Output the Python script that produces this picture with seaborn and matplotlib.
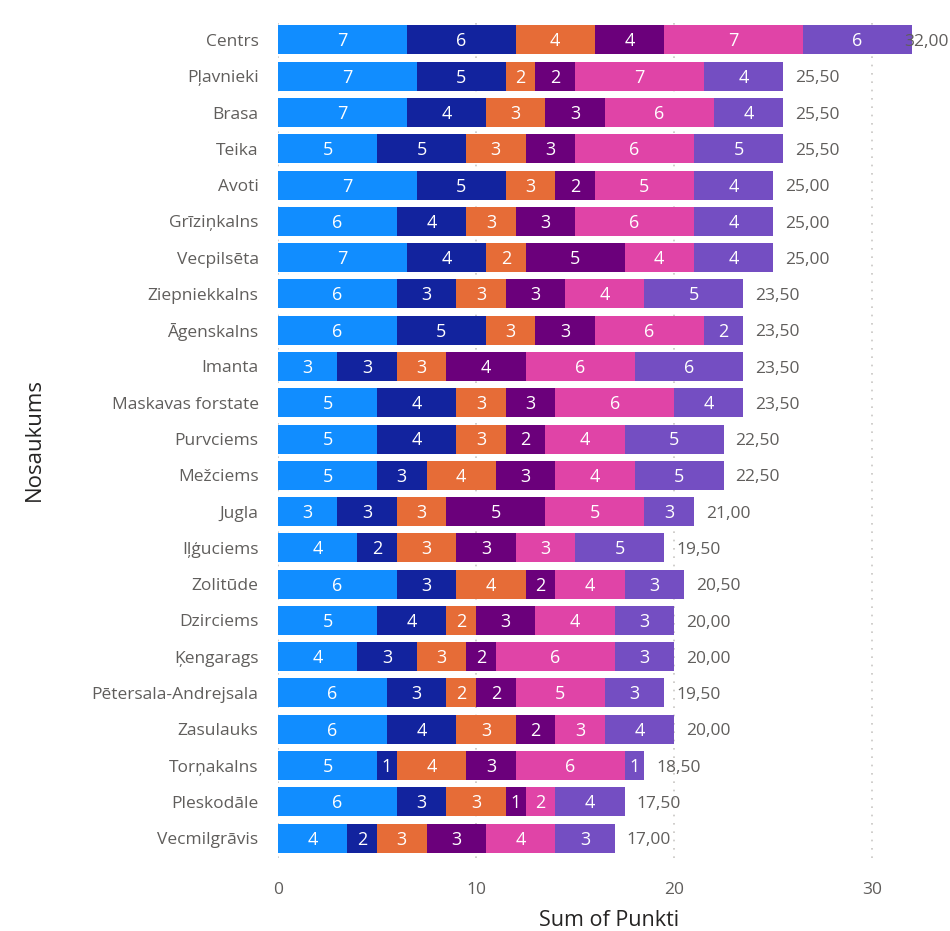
import numpy as np
import pandas as pd
import matplotlib
matplotlib.use('Agg')
import matplotlib.pyplot as plt
import seaborn as sns

# Data (values in half points)
districts = ['Centrs', 'Pļavnieki', 'Brasa', 'Teika', 'Avoti', 'Grīziņkalns',
             'Vecpilsēta', 'Ziepniekkalns', 'Āgenskalns', 'Imanta',
             'Maskavas forstate', 'Purvciems', 'Mežciems', 'Jugla', 'Iļģuciems',
             'Zolitūde', 'Dzirciems', 'Ķengarags', 'Pētersala-Andrejsala',
             'Zasulauks', 'Torņakalns', 'Pleskodāle', 'Vecmilgrāvis']

s1 = [6.5, 7, 6.5, 5, 7, 6, 6.5, 6, 6, 3, 5, 5, 5, 3, 4, 6, 5, 4, 5.5, 5.5, 5, 6, 3.5]
s2 = [5.5, 4.5, 4, 4.5, 4.5, 3.5, 4, 3, 4.5, 3, 4, 4, 2.5, 3, 2, 3, 3.5, 3, 3, 3.5, 1, 2.5, 1.5]
s3 = [4, 1.5, 3, 3, 2.5, 2.5, 2, 2.5, 2.5, 2.5, 2.5, 2.5, 3.5, 2.5, 3, 3.5, 1.5, 2.5, 1.5, 3, 3.5, 3, 2.5]
s4 = [3.5, 2, 3, 2.5, 2, 3, 5, 3, 3, 4, 2.5, 2, 3, 5, 3, 1.5, 3, 1.5, 2, 2, 2.5, 1, 3]
s5 = [7, 6.5, 5.5, 6, 5, 6, 3.5, 4, 5.5, 5.5, 6, 4, 4, 5, 3, 3.5, 4, 6, 4.5, 2.5, 5.5, 1.5, 3.5]
s6 = [5.5, 4, 3.5, 4.5, 4, 4, 4, 5, 2, 5.5, 3.5, 5, 4.5, 2.5, 4.5, 3, 3, 3, 3, 3.5, 1, 3.5, 3]

series = [s1, s2, s3, s4, s5, s6]
colors = ['#118DFF', '#12239E', '#E66C37', '#6B007B', '#E044A7', '#744EC2']

vals = np.array(series)
cum = np.cumsum(vals, axis=0)
totals = cum[-1]

FAM = ['Open Sans', 'DejaVu Sans']

fig = plt.figure(figsize=(9.5, 9.31), dpi=100)
ax = fig.add_axes([0.2926, 0.0784, 0.6964, 0.9001])
sns.set_style('white')
plt.rcParams['font.family'] = FAM

# stacked bars: draw cumulative sums from the outermost layer inward
for k in range(len(series) - 1, -1, -1):
    sns.barplot(x=cum[k], y=districts, order=districts, orient='h',
                color=colors[k], width=0.8, saturation=1, linewidth=0,
                ax=ax, zorder=2)

for k in range(len(series)):
    for i in range(len(districts)):
        v = vals[k, i]
        lab = int(np.floor(v + 0.5))
        ax.text(cum[k, i] - v / 2, i + 0.04, str(lab), ha='center', va='center',
                color='white', fontsize=13, family=FAM, zorder=3)

for i, t in enumerate(totals):
    x = min(t + 0.6, 31.6)
    ax.text(x, i + 0.06, f'{t:.2f}'.replace('.', ','), ha='left', va='center',
            color='#605E5C', fontsize=12.5, family=FAM, zorder=4)

ax.set_xlim(0, 33.4)
ax.set_ylim(22.55, -0.55)
ax.set_xticks([0, 10, 20, 30])
ax.xaxis.grid(True, linestyle=(0, (1, 4)), color='#C8C6C4', linewidth=1.2, zorder=0)
ax.set_axisbelow(True)
for sp in ax.spines.values():
    sp.set_visible(False)
ax.tick_params(axis='both', length=0, labelsize=12.5, labelcolor='#605E5C')
ax.tick_params(axis='x', pad=17)
ax.tick_params(axis='y', pad=14)
for lbl in ax.get_xticklabels() + ax.get_yticklabels():
    lbl.set_family(FAM)

ax.set_xlabel('Sum of Punkti', fontsize=15.5, color='#252423', family=FAM)
ax.set_ylabel('Nosaukums', fontsize=16, color='#252423', family=FAM)
ax.xaxis.set_label_coords(0.5, -0.062)
ax.yaxis.set_label_coords(-0.352, 0.5)

fig.savefig('out.png', dpi=100)
